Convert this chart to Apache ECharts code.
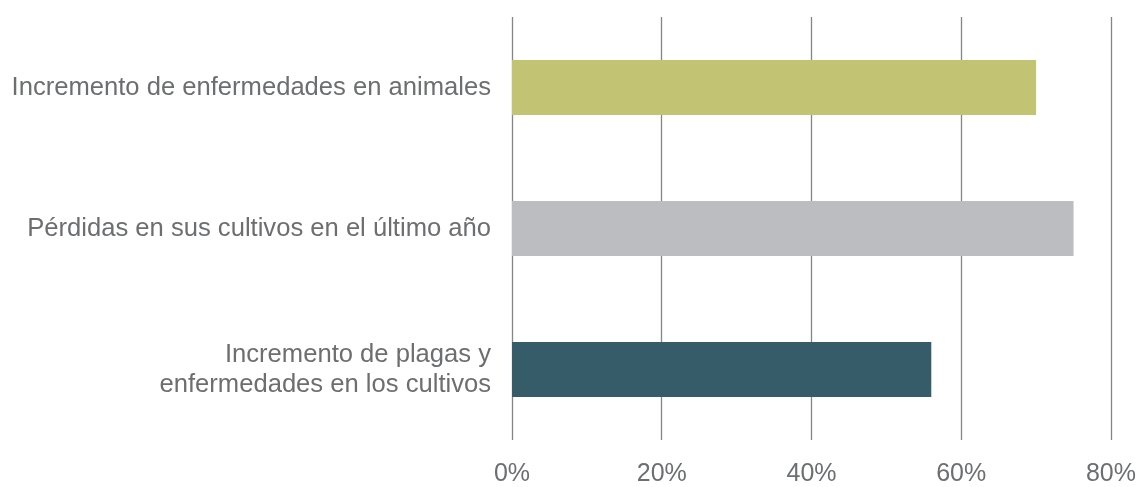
<!DOCTYPE html>
<html><head><meta charset="utf-8">
<script src="https://cdn.jsdelivr.net/npm/echarts@6/dist/echarts.min.js"></script>
<style>html,body{margin:0;padding:0;background:#fff}#c{width:1139px;height:487px}</style>
</head><body><div id="c"></div>
<script>
var categories = ["Incremento de plagas y\nenfermedades en los cultivos", "Pérdidas en sus cultivos en el último año", "Incremento de enfermedades en animales"];
var values = [56, 75, 70];
var barColors = ["#365B69", "#BCBDC0", "#C2C474"];
var tickLabels = ["0%", "20%", "40%", "60%", "80%"];

var chart = echarts.init(document.getElementById('c'), null, {renderer: 'canvas'});
chart.setOption({
  animation: false,
  grid: {left: 512, right: 27, top: 17, bottom: 42, containLabel: false},
  xAxis: {
    type: 'value', min: 0, max: 80, interval: 20,
    axisLine: {show: false}, axisTick: {show: false},
    splitLine: {show: true, lineStyle: {color: '#858585', width: 1.3}},
    axisLabel: {
      margin: 22, color: '#6d6e70', fontSize: 25, fontFamily: 'Liberation Sans',
      formatter: function (v) { return tickLabels[v / 20]; }
    }
  },
  yAxis: {
    type: 'category', data: categories,
    axisLine: {show: false}, axisTick: {show: false},
    axisLabel: {margin: 21, color: '#6d6e70', fontSize: 25.6, fontFamily: 'Liberation Sans', lineHeight: 30, align: 'right'}
  },
  series: [{
    type: 'bar', barWidth: 55,
    data: values.map(function (v, i) { return {value: v, itemStyle: {color: barColors[i]}}; })
  }]
});
</script></body></html>
